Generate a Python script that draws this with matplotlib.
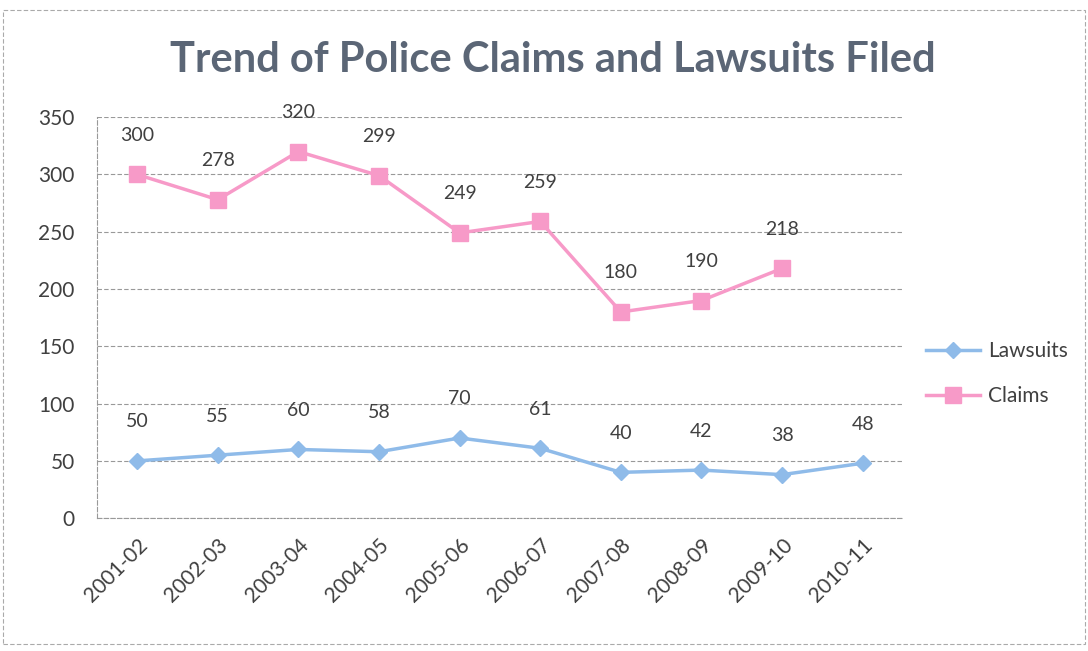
import numpy as np
import matplotlib.pyplot as plt
from matplotlib.patches import Rectangle

years = ["2001-02", "2002-03", "2003-04", "2004-05", "2005-06",
         "2006-07", "2007-08", "2008-09", "2009-10", "2010-11"]
lawsuits = [50, 55, 60, 58, 70, 61, 40, 42, 38, 48]
claims = [300, 278, 320, 299, 249, 259, 180, 190, 218]

plt.rcParams['font.family'] = ['Lato', 'DejaVu Sans']

fig = plt.figure(figsize=(10.88, 6.51), dpi=100)
ax = fig.add_axes([0.089, 0.204, 0.741, 0.616])

x = np.arange(len(years))
blue = '#8fbbe9'
pink = '#f79ac8'

ax.plot(x, lawsuits, color=blue, lw=2.5, marker='D', ms=8,
        mfc=blue, mec=blue, label='Lawsuits')
ax.plot(x[:len(claims)], claims, color=pink, lw=2.5, marker='s', ms=11,
        mfc=pink, mec=pink, label='Claims')

# data labels above each point
for xi, v in zip(x, lawsuits):
    ax.annotate(str(v), (xi, v), xytext=(0, 22), textcoords='offset points',
                ha='center', va='bottom', fontsize=14, color='#404040')
for xi, v in zip(x, claims):
    ax.annotate(str(v), (xi, v), xytext=(0, 22), textcoords='offset points',
                ha='center', va='bottom', fontsize=14, color='#404040')

ax.set_xlim(-0.5, len(years) - 0.5)
ax.set_ylim(0, 350)
ax.set_yticks(range(0, 351, 50))
ax.set_xticks(x)
ax.set_xticklabels(years, rotation=45, ha='right', rotation_mode='anchor')
ax.tick_params(axis='both', length=0, labelsize=15, colors='#404040')
ax.tick_params(axis='y', pad=16)
ax.tick_params(axis='x', pad=12)

ax.grid(axis='y', color='#999999', ls=(0, (4, 2)), lw=0.8)
for s in ['top', 'right']:
    ax.spines[s].set_visible(False)
for s in ['left', 'bottom']:
    ax.spines[s].set_color('#999999')
    ax.spines[s].set_linestyle((0, (4, 2)))
    ax.spines[s].set_linewidth(0.8)

fig.text(0.508, 0.908, "Trend of Police Claims and Lawsuits Filed",
         ha='center', va='center', fontsize=30, fontweight='bold',
         color='#5b6676')

ax.legend(loc='center left', bbox_to_anchor=(1.005, 0.36), frameon=False,
          fontsize=15, handlelength=2.6, handletextpad=0.4,
          labelspacing=1.2, labelcolor='#404040')

fig.patches.append(Rectangle((0.003, 0.01), 0.994, 0.975,
                             transform=fig.transFigure, fill=False,
                             ec='#aaaaaa', lw=0.8, ls=(0, (4, 2))))

fig.savefig('out.png', dpi=100)
